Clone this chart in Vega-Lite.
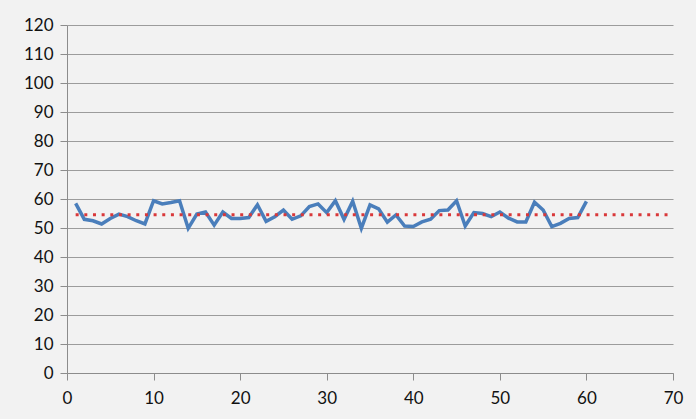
{
  "$schema": "https://vega.github.io/schema/vega-lite/v6.json",
  "width": 606,
  "height": 348,
  "autosize": {"type": "none"},
  "padding": {"left": 67, "top": 25, "right": 23, "bottom": 46},
  "background": "#f2f2f2",
  "config": {
    "view": {"stroke": null},
    "axis": {
      "labelFont": "Lato",
      "labelFontSize": 17,
      "labelColor": "#111111",
      "labelOverlap": false,
      "domainColor": "#8c8c8c",
      "tickColor": "#8c8c8c",
      "gridColor": "#9c9c9c",
      "gridWidth": 1,
      "tickSize": 7,
      "title": null
    }
  },
  "datasets": {
    "series": [
      {"x": 1, "y": 58.5}, {"x": 2, "y": 53.0}, {"x": 3, "y": 52.5}, {"x": 4, "y": 51.4},
      {"x": 5, "y": 53.3}, {"x": 6, "y": 54.8}, {"x": 7, "y": 53.9}, {"x": 8, "y": 52.5},
      {"x": 9, "y": 51.4}, {"x": 10, "y": 59.4}, {"x": 11, "y": 58.3}, {"x": 12, "y": 58.8},
      {"x": 13, "y": 59.4}, {"x": 14, "y": 49.9}, {"x": 15, "y": 54.8}, {"x": 16, "y": 55.5},
      {"x": 17, "y": 51.0}, {"x": 18, "y": 55.5}, {"x": 19, "y": 53.3}, {"x": 20, "y": 53.3},
      {"x": 21, "y": 53.6}, {"x": 22, "y": 58.0}, {"x": 23, "y": 52.3}, {"x": 24, "y": 53.9},
      {"x": 25, "y": 56.2}, {"x": 26, "y": 53.0}, {"x": 27, "y": 54.2}, {"x": 28, "y": 57.4},
      {"x": 29, "y": 58.3}, {"x": 30, "y": 55.3}, {"x": 31, "y": 59.4}, {"x": 32, "y": 53.0},
      {"x": 33, "y": 59.2}, {"x": 34, "y": 49.9}, {"x": 35, "y": 58.0}, {"x": 36, "y": 56.6},
      {"x": 37, "y": 52.0}, {"x": 38, "y": 54.5}, {"x": 39, "y": 50.7}, {"x": 40, "y": 50.5},
      {"x": 41, "y": 52.1}, {"x": 42, "y": 53.0}, {"x": 43, "y": 56.0}, {"x": 44, "y": 56.2},
      {"x": 45, "y": 59.4}, {"x": 46, "y": 50.7}, {"x": 47, "y": 55.3}, {"x": 48, "y": 55.0},
      {"x": 49, "y": 53.9}, {"x": 50, "y": 55.5}, {"x": 51, "y": 53.4}, {"x": 52, "y": 52.1},
      {"x": 53, "y": 52.1}, {"x": 54, "y": 58.9}, {"x": 55, "y": 56.2}, {"x": 56, "y": 50.5},
      {"x": 57, "y": 51.6}, {"x": 58, "y": 53.3}, {"x": 59, "y": 53.6}, {"x": 60, "y": 59.2}
    ],
    "mean": [{"x": 1, "x2": 70, "y": 54.6}]
  },
  "encoding": {
    "x": {
      "field": "x", "type": "quantitative",
      "scale": {"domain": [0, 70], "nice": false},
      "axis": {"values": [0, 10, 20, 30, 40, 50, 60, 70], "grid": false, "labelPadding": 10, "labelFlush": false}
    },
    "y": {
      "field": "y", "type": "quantitative",
      "scale": {"domain": [0, 120], "nice": false},
      "axis": {"values": [0, 10, 20, 30, 40, 50, 60, 70, 80, 90, 100, 110, 120], "grid": true, "labelPadding": 7, "domain": true, "labelOverlap": false}
    }
  },
  "layer": [
    {
      "data": {"name": "series"},
      "mark": {"type": "line", "color": "#4a7ebb", "strokeWidth": 3.5, "strokeJoin": "miter"}
    },
    {
      "data": {"name": "mean"},
      "mark": {"type": "rule", "color": "#d9383a", "strokeWidth": 3, "strokeDash": [3, 5.66]},
      "encoding": {
        "x2": {"field": "x2"}
      }
    }
  ]
}
